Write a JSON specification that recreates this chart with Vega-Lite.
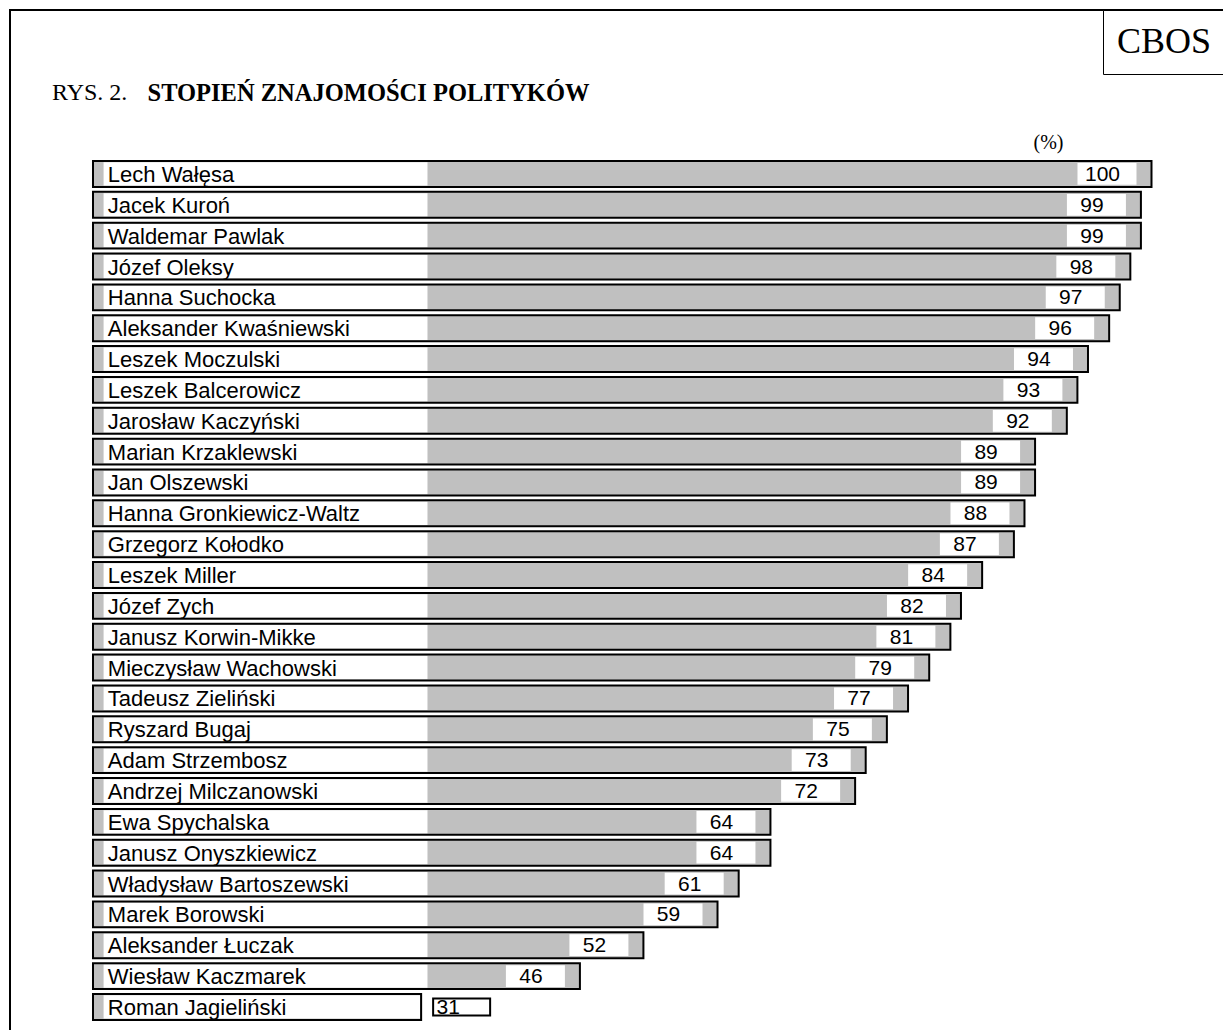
{
  "$schema": "https://vega.github.io/schema/vega-lite/v6.json",
  "width": 1213,
  "height": 1020,
  "autosize": {"type": "none"},
  "padding": {"left": 10, "top": 10, "right": 0, "bottom": 0},
  "background": "white",
  "title": {
    "text": "RYS. 2.",
    "anchor": "start",
    "frame": "group",
    "orient": "top",
    "font": "Liberation Serif",
    "fontSize": 24,
    "fontWeight": "normal",
    "color": "black",
    "offset": -114,
    "dx": 42,
    "baseline": "alphabetic"
  },
  "config": {
    "view": {"stroke": "black", "strokeWidth": 2, "strokeDash": [1213, 2233, 1020]},
    "axis": {"labels": false, "ticks": false, "grid": false, "domain": false, "zindex": 1}
  },
  "data": {
    "values": [
      {"name": "Lech Wałęsa", "value": 100},
      {"name": "Jacek Kuroń", "value": 99},
      {"name": "Waldemar Pawlak", "value": 99},
      {"name": "Józef Oleksy", "value": 98},
      {"name": "Hanna Suchocka", "value": 97},
      {"name": "Aleksander Kwaśniewski", "value": 96},
      {"name": "Leszek Moczulski", "value": 94},
      {"name": "Leszek Balcerowicz", "value": 93},
      {"name": "Jarosław Kaczyński", "value": 92},
      {"name": "Marian Krzaklewski", "value": 89},
      {"name": "Jan Olszewski", "value": 89},
      {"name": "Hanna Gronkiewicz-Waltz", "value": 88},
      {"name": "Grzegorz Kołodko", "value": 87},
      {"name": "Leszek Miller", "value": 84},
      {"name": "Józef Zych", "value": 82},
      {"name": "Janusz Korwin-Mikke", "value": 81},
      {"name": "Mieczysław Wachowski", "value": 79},
      {"name": "Tadeusz Zieliński", "value": 77},
      {"name": "Ryszard Bugaj", "value": 75},
      {"name": "Adam Strzembosz", "value": 73},
      {"name": "Andrzej Milczanowski", "value": 72},
      {"name": "Ewa Spychalska", "value": 64},
      {"name": "Janusz Onyszkiewicz", "value": 64},
      {"name": "Władysław Bartoszewski", "value": 61},
      {"name": "Marek Borowski", "value": 59},
      {"name": "Aleksander Łuczak", "value": 52},
      {"name": "Wiesław Kaczmarek", "value": 46},
      {"name": "Roman Jagieliński", "value": 31}
    ]
  },
  "encoding": {
    "y": {
      "field": "name",
      "type": "nominal",
      "sort": null,
      "scale": {"range": [151, 1009.9], "paddingInner": 0.16, "paddingOuter": 0},
      "axis": {
        "orient": "left",
        "title": "(%)",
        "titleAngle": 0,
        "titleX": 1023,
        "titleY": 138,
        "titleAlign": "left",
        "titleBaseline": "alphabetic",
        "titleFont": "Liberation Serif",
        "titleFontSize": 20,
        "titleFontWeight": "normal",
        "titleColor": "black"
      }
    }
  },
  "layer": [
    {
      "mark": {"type": "bar", "fill": "#c0c0c0"},
      "encoding": {
        "x": {
          "field": "value",
          "type": "quantitative",
          "scale": {"domain": [-7.841, 106.755], "nice": false, "zero": false},
          "axis": {
            "orient": "top",
            "title": "STOPIEŃ ZNAJOMOŚCI POLITYKÓW",
            "titleX": 137,
            "titleY": 90,
            "titleAlign": "left",
            "titleBaseline": "alphabetic",
            "titleFont": "Liberation Serif",
            "titleFontSize": 24.5,
            "titleFontWeight": "bold",
            "titleColor": "black"
          }
        },
        "x2": {"datum": 0}
      }
    },
    {
      "transform": [{"filter": "datum.value >= 33"}],
      "mark": {"type": "bar", "fill": "white", "height": {"band": 0.9}},
      "encoding": {
        "x": {"datum": 1.0, "type": "quantitative"},
        "x2": {"datum": 31.6}
      }
    },
    {
      "transform": [{"filter": "datum.value < 33"}],
      "mark": {"type": "bar", "fill": "white", "height": {"band": 0.9}, "xOffset": -1},
      "encoding": {
        "x": {"field": "value", "type": "quantitative"},
        "x2": {"datum": 1.0}
      }
    },
    {
      "transform": [{"filter": "datum.value >= 33"}],
      "mark": {"type": "bar", "fill": "white", "height": {"band": 0.84}, "xOffset": -74, "x2Offset": -15},
      "encoding": {
        "x": {"field": "value", "type": "quantitative"},
        "x2": {"field": "value"}
      }
    },
    {
      "transform": [{"filter": "datum.value < 33"}],
      "mark": {"type": "bar", "fill": "white", "stroke": "black", "strokeWidth": 2, "height": {"band": 0.66}, "xOffset": 12, "x2Offset": 69},
      "encoding": {
        "x": {"field": "value", "type": "quantitative"},
        "x2": {"field": "value"}
      }
    },
    {
      "mark": {"type": "bar", "fillOpacity": 0, "strokeWidth": 2},
      "encoding": {
        "x": {"field": "value", "type": "quantitative"},
        "x2": {"datum": 0},
        "stroke": {
          "datum": "CBOS",
          "type": "nominal",
          "scale": {"range": ["black"]},
          "legend": {
            "orient": "none",
            "legendX": 1093,
            "legendY": 0,
            "title": null,
            "symbolSize": 0,
            "symbolOpacity": 0,
            "symbolStrokeWidth": 0,
            "labelOffset": -36,
            "labelFont": "Liberation Serif",
            "labelFontSize": 36,
            "labelColor": "black",
            "padding": 14,
            "strokeColor": "black",
            "fillColor": "white"
          }
        }
      }
    },
    {
      "mark": {"type": "text", "align": "left", "baseline": "middle", "font": "Liberation Sans", "fontSize": 22, "color": "black", "dy": 1},
      "encoding": {
        "x": {"datum": 1.4, "type": "quantitative"},
        "text": {"field": "name", "type": "nominal"}
      }
    },
    {
      "transform": [{"filter": "datum.value >= 33"}],
      "mark": {"type": "text", "align": "center", "baseline": "middle", "font": "Liberation Sans", "fontSize": 21, "color": "black", "dx": -49, "dy": 1},
      "encoding": {
        "x": {"field": "value", "type": "quantitative"},
        "text": {"field": "value", "type": "quantitative"}
      }
    },
    {
      "transform": [{"filter": "datum.value < 33"}],
      "mark": {"type": "text", "align": "center", "baseline": "middle", "font": "Liberation Sans", "fontSize": 21, "color": "black", "dx": 27, "dy": 1},
      "encoding": {
        "x": {"field": "value", "type": "quantitative"},
        "text": {"field": "value", "type": "quantitative"}
      }
    }
  ]
}
